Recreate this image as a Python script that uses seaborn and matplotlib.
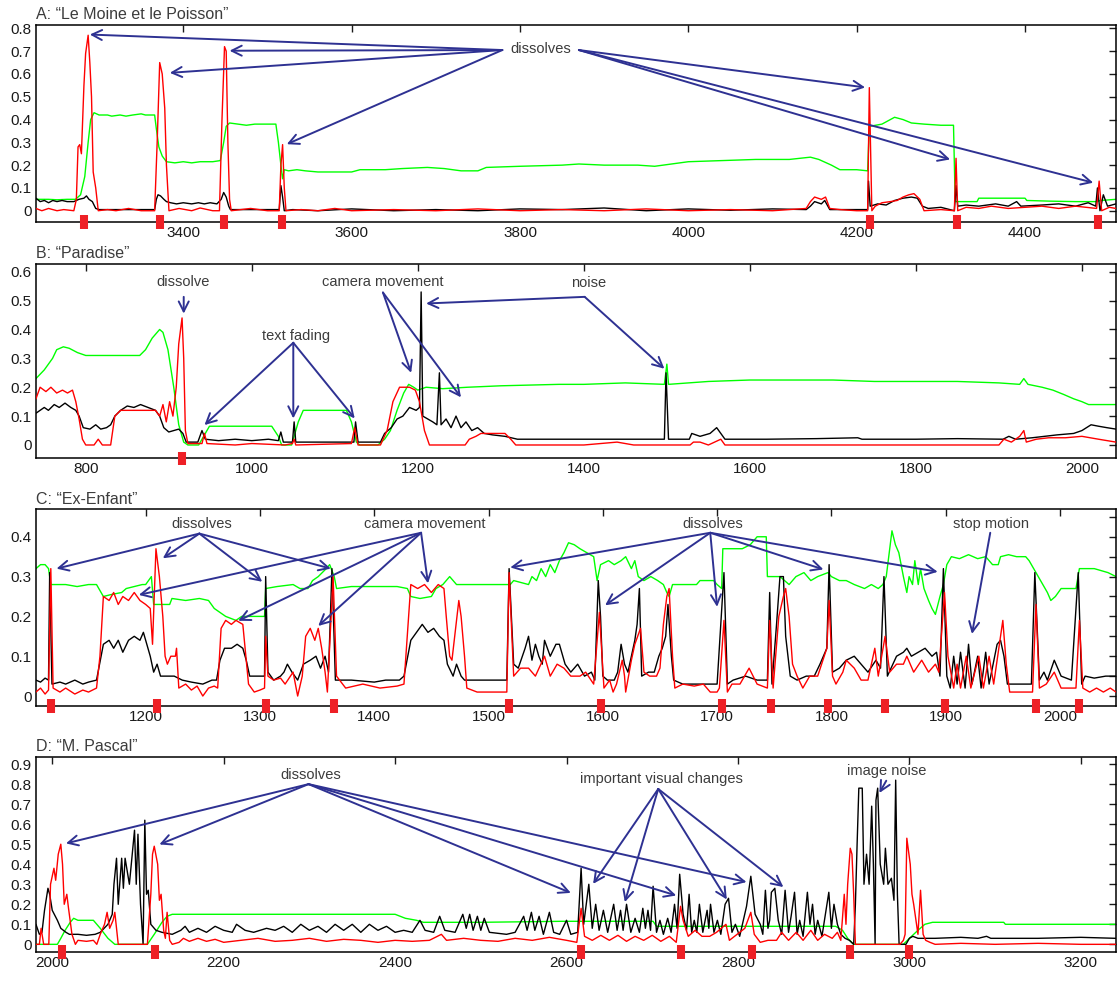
import numpy as np
import pandas as pd
import matplotlib
matplotlib.use("Agg")
import matplotlib.pyplot as plt
import seaborn as sns

# ---------------- data (frame, value) ----------------
A_green = [(3225,0.05),(3240,0.05),(3250,0.048),(3262,0.05),(3272,0.05),(3278,0.07),(3283,0.15),(3287,0.3),(3290,0.4),(3294,0.43),
 (3300,0.42),(3310,0.42),(3315,0.415),(3325,0.42),(3332,0.415),(3340,0.42),(3350,0.425),(3355,0.42),(3366,0.42),(3368,0.36),
 (3371,0.28),(3375,0.24),(3380,0.215),(3390,0.21),(3400,0.215),(3410,0.21),(3420,0.215),(3435,0.215),(3444,0.22),(3448,0.3),
 (3451,0.37),(3455,0.385),(3465,0.38),(3475,0.375),(3485,0.38),(3500,0.38),(3510,0.38),(3513,0.3),(3516,0.2),(3518,0.14),
 (3520,0.18),(3525,0.175),(3535,0.18),(3545,0.175),(3560,0.17),(3600,0.17),(3610,0.18),(3640,0.18),(3660,0.185),(3690,0.19),
 (3710,0.185),(3730,0.175),(3750,0.175),(3760,0.19),(3800,0.195),(3850,0.2),(3870,0.205),(3900,0.2),(3940,0.2),(3960,0.195),
 (3980,0.205),(4000,0.215),(4040,0.22),(4080,0.225),(4120,0.225),(4145,0.235),(4155,0.225),(4170,0.2),(4180,0.18),(4200,0.18),
 (4213,0.175),(4215,0.37),(4230,0.38),(4245,0.41),(4255,0.4),(4265,0.385),(4280,0.38),(4300,0.375),(4315,0.375),(4317,0.04),
 (4330,0.04),(4343,0.04),(4345,0.055),(4400,0.055),(4402,0.045),(4430,0.042),(4460,0.04),(4484,0.04),(4490,0.045),(4508,0.05)]
A_black = [(3225,0.055),(3230,0.04),(3235,0.045),(3240,0.035),(3245,0.045),(3250,0.04),(3256,0.045),(3262,0.04),(3270,0.04),
 (3276,0.05),(3282,0.055),(3285,0.065),(3288,0.05),(3292,0.04),(3296,0.01),(3300,0.005),(3366,0.005),(3368,0.05),(3370,0.07),
 (3373,0.065),(3377,0.05),(3380,0.04),(3385,0.035),(3392,0.03),(3400,0.035),(3410,0.03),(3418,0.035),(3425,0.03),(3432,0.035),
 (3440,0.03),(3445,0.05),(3448,0.08),(3451,0.06),(3454,0.02),(3456,0.005),(3514,0.005),(3516,0.11),(3518,0.06),(3520,0.0),
 (3530,0.005),(3560,0.0),(3600,0.008),(3650,0.0),(3700,0.005),(3750,0.0),(3800,0.008),(3850,0.005),(3900,0.012),(3950,0.0),
 (4000,0.008),(4050,0.002),(4100,0.008),(4140,0.005),(4145,0.02),(4150,0.04),(4158,0.03),(4162,0.045),(4168,0.005),(4213,0.005),
 (4214,0.13),(4216,0.02),(4225,0.03),(4235,0.025),(4245,0.045),(4255,0.055),(4265,0.06),(4272,0.055),(4278,0.02),(4285,0.01),
 (4300,0.015),(4316,0.0),(4318,0.11),(4320,0.02),(4330,0.025),(4345,0.02),(4365,0.03),(4380,0.02),(4390,0.04),(4395,0.02),
 (4420,0.025),(4440,0.03),(4460,0.02),(4475,0.035),(4484,0.02),(4486,0.1),(4489,0.0),(4493,0.07),(4498,0.02),(4508,0.03)]
A_red = [(3225,0.01),(3232,0.0),(3240,0.01),(3250,0.0),(3258,0.005),(3270,0.0),(3273,0.05),(3275,0.28),(3277,0.29),(3279,0.25),
 (3282,0.55),(3284,0.69),(3287,0.77),(3289,0.65),(3291,0.5),(3293,0.17),(3296,0.1),(3299,0.0),(3310,0.005),(3320,0.0),(3335,0.01),
 (3350,0.0),(3366,0.0),(3369,0.3),(3372,0.65),(3375,0.6),(3378,0.45),(3380,0.2),(3383,0.0),(3395,0.01),(3410,0.0),(3420,0.012),
 (3435,0.0),(3443,0.0),(3446,0.4),(3449,0.72),(3451,0.7),(3453,0.3),(3455,0.05),(3457,0.0),(3480,0.01),(3500,0.0),(3514,0.0),
 (3516,0.2),(3518,0.29),(3520,0.1),(3522,0.0),(3540,0.005),(3560,0.0),(3580,0.01),(3600,0.0),(3650,0.005),(3700,0.0),(3750,0.008),
 (3800,0.0),(3850,0.005),(3900,0.0),(3950,0.008),(4000,0.0),(4050,0.005),(4100,0.0),(4140,0.01),(4145,0.04),(4150,0.06),(4158,0.05),
 (4163,0.06),(4168,0.01),(4180,0.005),(4200,0.0),(4213,0.0),(4215,0.54),(4218,0.0),(4222,0.02),(4230,0.035),(4240,0.04),(4248,0.045),
 (4255,0.06),(4262,0.07),(4268,0.075),(4275,0.05),(4280,0.0),(4300,0.005),(4316,0.0),(4318,0.23),(4320,0.0),(4330,0.015),(4345,0.01),
 (4360,0.02),(4380,0.01),(4400,0.015),(4420,0.02),(4440,0.01),(4460,0.02),(4485,0.01),(4488,0.13),(4491,0.0),(4500,0.015),(4508,0.01)]
A_cuts = [3282, 3372, 3448, 3517, 4216, 4319, 4487]

B_green = [(740,0.23),(750,0.26),(760,0.3),(765,0.33),(773,0.34),(780,0.335),(790,0.32),(800,0.31),(830,0.31),(865,0.31),(872,0.33),
 (880,0.37),(889,0.4),(893,0.39),(899,0.33),(906,0.2),(912,0.07),(918,0.01),(923,0.0),(936,0.0),(940,0.02),(949,0.065),(980,0.065),
 (1024,0.065),(1032,0.03),(1036,0.0),(1048,0.0),(1056,0.08),(1062,0.12),(1080,0.12),(1100,0.12),(1114,0.12),(1120,0.08),(1126,0.01),
 (1130,0.0),(1152,0.0),(1160,0.02),(1167,0.05),(1175,0.12),(1183,0.18),(1189,0.21),(1195,0.2),(1200,0.19),(1210,0.2),(1230,0.195),
 (1260,0.2),(1300,0.205),(1370,0.21),(1400,0.21),(1450,0.215),(1497,0.21),(1500,0.28),(1502,0.21),(1550,0.22),(1600,0.225),
 (1650,0.225),(1700,0.225),(1750,0.22),(1800,0.22),(1850,0.22),(1900,0.215),(1925,0.21),(1930,0.23),(1935,0.21),(1952,0.2),
 (1965,0.19),(1978,0.175),(1990,0.16),(2000,0.15),(2008,0.14),(2041,0.14)]
B_black = [(740,0.11),(745,0.12),(750,0.13),(755,0.12),(762,0.14),(768,0.13),(775,0.145),(782,0.13),(788,0.12),(792,0.1),(797,0.06),
 (805,0.055),(812,0.07),(818,0.055),(825,0.06),(830,0.07),(835,0.1),(842,0.12),(850,0.135),(858,0.13),(866,0.14),(875,0.13),
 (884,0.12),(889,0.1),(894,0.06),(900,0.045),(906,0.05),(912,0.055),(917,0.04),(921,0.01),(935,0.01),(940,0.05),(944,0.02),
 (960,0.015),(980,0.02),(1000,0.015),(1020,0.02),(1032,0.015),(1035,0.045),(1038,0.01),(1049,0.01),(1051,0.08),(1053,0.01),
 (1080,0.01),(1110,0.01),(1123,0.01),(1125,0.08),(1128,0.01),(1155,0.01),(1160,0.04),(1168,0.06),(1175,0.09),(1182,0.1),
 (1190,0.13),(1198,0.12),(1202,0.13),(1204,0.53),(1206,0.1),(1212,0.09),(1218,0.08),(1223,0.07),(1226,0.25),(1228,0.07),
 (1234,0.09),(1240,0.06),(1246,0.1),(1252,0.06),(1258,0.08),(1265,0.05),(1272,0.06),(1280,0.04),(1290,0.035),(1305,0.03),
 (1320,0.02),(1370,0.02),(1400,0.02),(1440,0.02),(1497,0.02),(1499,0.25),(1502,0.02),(1527,0.02),(1530,0.04),(1540,0.03),
 (1552,0.04),(1560,0.06),(1565,0.04),(1570,0.02),(1620,0.02),(1680,0.022),(1730,0.025),(1735,0.02),(1800,0.02),(1850,0.022),
 (1905,0.02),(1912,0.03),(1920,0.02),(1940,0.025),(1955,0.03),(1970,0.035),(1990,0.04),(2000,0.05),(2011,0.07),(2020,0.065),
 (2030,0.06),(2041,0.055)]
B_red = [(740,0.16),(745,0.2),(752,0.185),(758,0.2),(765,0.18),(772,0.19),(778,0.18),(784,0.19),(788,0.15),(792,0.09),(796,0.02),
 (800,0.0),(810,0.0),(815,0.02),(820,0.0),(830,0.0),(835,0.1),(842,0.12),(870,0.12),(884,0.12),(889,0.1),(893,0.14),(897,0.08),
 (901,0.15),(905,0.1),(909,0.2),(912,0.35),(916,0.44),(918,0.3),(920,0.05),(923,0.005),(940,0.005),(943,0.04),(946,0.005),
 (980,0.0),(1000,0.005),(1040,0.0),(1049,0.005),(1051,0.02),(1053,0.0),(1120,0.005),(1124,0.06),(1128,0.0),(1155,0.0),(1163,0.05),
 (1170,0.15),(1178,0.2),(1190,0.2),(1197,0.19),(1202,0.15),(1208,0.05),(1214,0.0),(1257,0.0),(1262,0.02),(1270,0.03),(1276,0.04),
 (1305,0.04),(1312,0.02),(1318,0.0),(1400,0.0),(1440,0.01),(1460,0.0),(1528,0.0),(1532,0.01),(1540,0.01),(1550,0.0),(1565,0.02),
 (1570,0.0),(1900,0.0),(1906,0.02),(1915,0.01),(1925,0.03),(1930,0.05),(1933,0.01),(1945,0.02),(1960,0.025),(1980,0.025),
 (2000,0.03),(2020,0.02),(2041,0.01)]
B_cuts = [916]

C_green = [(1104,0.32),(1108,0.33),(1112,0.33),(1115,0.32),(1117,0.28),(1130,0.28),(1140,0.275),(1150,0.28),(1157,0.28),(1163,0.25),
 (1170,0.255),(1179,0.26),(1183,0.27),(1197,0.28),(1200,0.28),(1205,0.3),(1207,0.23),(1221,0.23),(1223,0.245),(1235,0.24),
 (1247,0.245),(1255,0.24),(1260,0.22),(1265,0.21),(1270,0.2),(1279,0.19),(1284,0.2),(1295,0.2),(1304,0.2),(1305,0.27),(1315,0.275),
 (1329,0.28),(1335,0.27),(1342,0.27),(1346,0.29),(1351,0.3),(1358,0.32),(1361,0.33),(1365,0.3),(1367,0.27),(1380,0.275),(1400,0.275),
 (1420,0.275),(1429,0.27),(1432,0.25),(1440,0.245),(1450,0.25),(1454,0.27),(1460,0.28),(1466,0.3),(1472,0.28),(1490,0.28),
 (1516,0.28),(1519,0.28),(1522,0.29),(1535,0.28),(1538,0.3),(1542,0.29),(1546,0.32),(1550,0.3),(1554,0.33),(1558,0.31),(1562,0.34),
 (1566,0.36),(1570,0.385),(1575,0.38),(1580,0.37),(1586,0.36),(1592,0.35),(1595,0.29),(1598,0.33),(1605,0.34),(1610,0.33),
 (1616,0.34),(1620,0.35),(1625,0.32),(1628,0.34),(1631,0.3),(1636,0.29),(1642,0.3),(1648,0.29),(1653,0.28),(1656,0.26),(1658,0.25),
 (1661,0.28),(1670,0.28),(1682,0.28),(1685,0.29),(1697,0.29),(1700,0.28),(1704,0.27),(1705,0.37),(1722,0.37),(1729,0.38),
 (1735,0.4),(1743,0.4),(1744,0.3),(1755,0.3),(1763,0.28),(1769,0.3),(1776,0.31),(1782,0.29),(1788,0.3),(1797,0.31),(1800,0.3),
 (1807,0.29),(1813,0.29),(1820,0.28),(1829,0.27),(1835,0.28),(1841,0.27),(1845,0.28),(1848,0.3),(1853,0.415),(1856,0.38),
 (1859,0.36),(1863,0.3),(1866,0.26),(1868,0.3),(1871,0.28),(1873,0.34),(1876,0.28),(1878,0.32),(1881,0.27),(1885,0.24),(1888,0.22),
 (1891,0.205),(1895,0.25),(1898,0.28),(1901,0.33),(1905,0.35),(1912,0.345),(1920,0.355),(1928,0.345),(1935,0.35),(1941,0.33),
 (1946,0.33),(1948,0.35),(1955,0.355),(1962,0.35),(1970,0.35),(1973,0.34),(1979,0.31),(1983,0.29),(1989,0.26),(1992,0.24),
 (1996,0.25),(2001,0.27),(2014,0.27),(2017,0.32),(2030,0.32),(2042,0.31),(2049,0.3)]
C_black = [(1104,0.04),(1108,0.035),(1112,0.045),(1115,0.04),(1116,0.31),(1118,0.03),(1125,0.035),(1130,0.03),(1138,0.04),(1145,0.03),
 (1150,0.035),(1157,0.04),(1163,0.13),(1168,0.14),(1172,0.12),(1176,0.14),(1180,0.11),(1185,0.14),(1190,0.15),(1195,0.14),
 (1198,0.16),(1202,0.12),(1204,0.1),(1207,0.06),(1210,0.08),(1213,0.05),(1225,0.05),(1232,0.04),(1240,0.035),(1250,0.03),
 (1258,0.04),(1262,0.04),(1265,0.09),(1269,0.12),(1275,0.12),(1280,0.13),(1285,0.12),(1288,0.09),(1291,0.05),(1304,0.05),
 (1305,0.3),(1307,0.06),(1312,0.04),(1318,0.05),(1321,0.06),(1324,0.08),(1328,0.06),(1333,0.04),(1338,0.08),(1344,0.09),
 (1349,0.1),(1353,0.07),(1357,0.1),(1360,0.06),(1363,0.32),(1366,0.04),(1380,0.04),(1400,0.035),(1410,0.04),(1422,0.04),
 (1426,0.05),(1432,0.14),(1437,0.16),(1442,0.18),(1447,0.16),(1452,0.17),(1457,0.15),(1461,0.14),(1464,0.08),(1469,0.05),
 (1472,0.08),(1476,0.05),(1479,0.04),(1500,0.04),(1516,0.04),(1518,0.32),(1522,0.08),(1526,0.07),(1532,0.12),(1535,0.15),
 (1538,0.09),(1541,0.13),(1544,0.1),(1547,0.08),(1549,0.14),(1554,0.1),(1559,0.13),(1562,0.13),(1567,0.08),(1572,0.06),
 (1578,0.08),(1584,0.05),(1590,0.06),(1593,0.04),(1596,0.29),(1598,0.2),(1600,0.05),(1604,0.04),(1610,0.04),(1613,0.06),
 (1616,0.13),(1619,0.08),(1622,0.06),(1625,0.1),(1628,0.14),(1630,0.18),(1632,0.27),(1634,0.05),(1640,0.06),(1645,0.06),
 (1649,0.1),(1652,0.12),(1655,0.15),(1657,0.23),(1660,0.1),(1662,0.04),(1670,0.03),(1690,0.03),(1700,0.03),(1706,0.31),
 (1709,0.03),(1714,0.04),(1725,0.05),(1735,0.04),(1744,0.04),(1746,0.26),(1748,0.03),(1752,0.18),(1755,0.3),(1758,0.3),
 (1760,0.15),(1764,0.05),(1770,0.04),(1778,0.05),(1785,0.05),(1790,0.08),(1793,0.1),(1796,0.12),(1798,0.33),(1801,0.06),
 (1807,0.07),(1813,0.09),(1820,0.1),(1826,0.08),(1832,0.06),(1839,0.09),(1843,0.07),(1846,0.3),(1849,0.05),(1857,0.1),
 (1863,0.11),(1866,0.12),(1870,0.1),(1876,0.11),(1882,0.12),(1888,0.1),(1892,0.11),(1895,0.05),(1898,0.32),(1901,0.05),
 (1904,0.02),(1907,0.1),(1910,0.03),(1913,0.11),(1917,0.02),(1920,0.13),(1923,0.03),(1928,0.1),(1931,0.02),(1935,0.11),
 (1938,0.03),(1945,0.13),(1948,0.14),(1951,0.1),(1954,0.03),(1975,0.03),(1978,0.31),(1982,0.04),(1986,0.06),(1989,0.04),
 (1995,0.09),(2001,0.05),(2010,0.04),(2016,0.31),(2019,0.03),(2022,0.05),(2030,0.045),(2040,0.05),(2049,0.05)]
C_red = [(1104,0.01),(1108,0.02),(1112,0.005),(1115,0.015),(1117,0.32),(1119,0.02),(1125,0.01),(1130,0.02),(1138,0.005),(1145,0.015),
 (1150,0.01),(1157,0.02),(1160,0.1),(1163,0.25),(1168,0.24),(1172,0.26),(1176,0.23),(1180,0.25),(1185,0.24),(1190,0.26),(1195,0.24),
 (1200,0.23),(1204,0.22),(1206,0.13),(1209,0.37),(1212,0.3),(1215,0.2),(1217,0.1),(1219,0.08),(1222,0.1),(1226,0.1),(1227,0.12),
 (1229,0.02),(1235,0.03),(1240,0.015),(1245,0.025),(1250,0.0),(1255,0.02),(1260,0.025),(1263,0.02),(1266,0.17),(1270,0.19),
 (1275,0.18),(1279,0.19),(1285,0.18),(1290,0.03),(1295,0.01),(1300,0.015),(1304,0.02),(1305,0.15),(1307,0.05),(1312,0.04),
 (1318,0.045),(1322,0.03),(1329,0.06),(1333,0.0),(1337,0.05),(1340,0.15),(1344,0.17),(1348,0.14),(1351,0.17),(1354,0.12),
 (1357,0.06),(1359,0.01),(1364,0.3),(1367,0.05),(1375,0.02),(1390,0.03),(1405,0.02),(1420,0.025),(1426,0.03),(1432,0.28),
 (1438,0.27),(1444,0.28),(1450,0.26),(1456,0.28),(1461,0.27),(1463,0.2),(1466,0.1),(1468,0.09),(1474,0.24),(1476,0.2),(1479,0.1),
 (1481,0.02),(1490,0.01),(1505,0.01),(1516,0.01),(1518,0.31),(1522,0.05),(1528,0.07),(1535,0.07),(1541,0.05),(1549,0.1),
 (1554,0.05),(1560,0.08),(1566,0.07),(1572,0.05),(1580,0.05),(1585,0.06),(1592,0.03),(1597,0.21),(1601,0.02),(1606,0.04),
 (1609,0.01),(1612,0.03),(1617,0.09),(1619,0.05),(1620,0.01),(1625,0.09),(1628,0.13),(1633,0.17),(1636,0.06),(1641,0.05),
 (1647,0.05),(1650,0.07),(1653,0.18),(1656,0.25),(1658,0.27),(1661,0.1),(1663,0.02),(1670,0.03),(1680,0.025),(1688,0.03),
 (1694,0.01),(1700,0.01),(1702,0.02),(1706,0.19),(1709,0.01),(1713,0.03),(1720,0.03),(1728,0.07),(1735,0.03),(1744,0.02),
 (1746,0.19),(1749,0.02),(1754,0.2),(1758,0.25),(1760,0.27),(1763,0.2),(1766,0.08),(1770,0.05),(1775,0.02),(1781,0.05),
 (1788,0.05),(1796,0.12),(1798,0.24),(1801,0.05),(1804,0.03),(1810,0.06),(1813,0.09),(1820,0.07),(1826,0.04),(1832,0.04),
 (1835,0.08),(1838,0.12),(1841,0.05),(1847,0.15),(1851,0.06),(1857,0.08),(1863,0.08),(1866,0.1),(1872,0.06),(1879,0.09),
 (1885,0.06),(1891,0.08),(1894,0.06),(1899,0.26),(1902,0.1),(1907,0.02),(1910,0.08),(1913,0.02),(1918,0.1),(1922,0.02),
 (1929,0.1),(1933,0.02),(1938,0.1),(1942,0.03),(1948,0.15),(1950,0.19),(1953,0.08),(1956,0.01),(1976,0.01),(1979,0.23),
 (1982,0.02),(1988,0.03),(1995,0.06),(2001,0.02),(2014,0.02),(2017,0.19),(2020,0.02),(2026,0.01),(2032,0.02),(2038,0.01),
 (2044,0.02),(2049,0.01)]
C_cuts = [1117, 1210, 1305, 1365, 1518, 1598, 1704, 1747, 1797, 1847, 1899, 1979, 2017]

D_green = [(1981,0.0),(2006,0.0),(2010,0.03),(2015,0.07),(2021,0.11),(2025,0.13),(2030,0.12),(2048,0.12),(2056,0.08),(2065,0.03),
 (2073,0.0),(2111,0.0),(2119,0.05),(2128,0.11),(2134,0.14),(2140,0.15),(2200,0.15),(2300,0.15),(2400,0.15),(2412,0.13),
 (2425,0.12),(2433,0.11),(2500,0.11),(2594,0.115),(2650,0.115),(2701,0.115),(2705,0.09),(2800,0.09),(2914,0.09),(2922,0.07),
 (2928,0.03),(2935,0.0),(2993,0.0),(3000,0.03),(3010,0.07),(3018,0.1),(3027,0.11),(3080,0.11),(3110,0.11),(3112,0.1),
 (3180,0.1),(3200,0.1),(3241,0.1)]
D_black = [(1981,0.1),(1985,0.05),(1988,0.06),(1991,0.17),(1995,0.28),(1997,0.25),(2000,0.17),(2006,0.12),(2010,0.08),(2016,0.06),
 (2020,0.05),(2030,0.05),(2040,0.045),(2050,0.05),(2056,0.06),(2065,0.1),(2070,0.15),(2072,0.3),(2075,0.43),(2077,0.2),(2081,0.43),
 (2083,0.28),(2085,0.43),(2088,0.35),(2090,0.3),(2096,0.57),(2098,0.3),(2100,0.55),(2103,0.2),(2106,0.0),(2108,0.62),(2110,0.25),
 (2112,0.27),(2115,0.1),(2121,0.07),(2128,0.06),(2140,0.05),(2150,0.07),(2155,0.09),(2160,0.06),(2170,0.08),(2180,0.06),
 (2190,0.09),(2200,0.07),(2210,0.06),(2215,0.1),(2225,0.07),(2235,0.06),(2250,0.08),(2260,0.07),(2270,0.09),(2280,0.06),
 (2290,0.1),(2300,0.07),(2310,0.09),(2320,0.06),(2330,0.1),(2340,0.07),(2350,0.1),(2360,0.06),(2370,0.1),(2380,0.07),(2390,0.09),
 (2400,0.06),(2410,0.07),(2420,0.06),(2429,0.12),(2435,0.07),(2445,0.06),(2452,0.14),(2458,0.07),(2470,0.06),(2479,0.15),
 (2483,0.08),(2487,0.15),(2491,0.07),(2496,0.14),(2500,0.07),(2504,0.13),(2510,0.06),(2530,0.05),(2540,0.06),(2550,0.14),
 (2554,0.07),(2559,0.16),(2563,0.07),(2568,0.14),(2573,0.05),(2580,0.16),(2585,0.06),(2592,0.05),(2600,0.12),(2605,0.05),
 (2613,0.06),(2617,0.38),(2620,0.1),(2626,0.3),(2630,0.08),(2634,0.2),(2638,0.07),(2643,0.17),(2648,0.06),(2655,0.2),(2659,0.07),
 (2663,0.17),(2666,0.07),(2670,0.2),(2675,0.06),(2680,0.13),(2685,0.06),(2689,0.18),(2692,0.08),(2695,0.17),(2698,0.07),
 (2701,0.29),(2705,0.06),(2709,0.12),(2713,0.05),(2718,0.13),(2722,0.06),(2726,0.2),(2729,0.08),(2732,0.35),(2736,0.15),
 (2740,0.07),(2743,0.25),(2746,0.06),(2749,0.12),(2752,0.06),(2755,0.2),(2759,0.06),(2764,0.17),(2766,0.08),(2768,0.2),
 (2772,0.06),(2776,0.12),(2780,0.05),(2785,0.2),(2789,0.23),(2793,0.06),(2797,0.1),(2802,0.04),(2810,0.19),(2815,0.34),
 (2820,0.15),(2826,0.1),(2829,0.05),(2832,0.27),(2835,0.08),(2837,0.12),(2839,0.26),(2843,0.28),(2847,0.12),(2851,0.05),
 (2855,0.27),(2859,0.06),(2862,0.14),(2866,0.26),(2869,0.05),(2872,0.12),(2876,0.04),(2881,0.26),(2884,0.1),(2887,0.2),
 (2890,0.05),(2893,0.12),(2898,0.04),(2906,0.26),(2909,0.08),(2912,0.2),(2916,0.1),(2920,0.05),(2925,0.03),(2930,0.02),
 (2935,0.0),(2937,0.2),(2939,0.5),(2941,0.78),(2945,0.78),(2947,0.3),(2950,0.45),(2953,0.3),(2956,0.69),(2958,0.4),(2960,0.0),
 (2961,0.72),(2963,0.78),(2966,0.4),(2970,0.3),(2972,0.48),(2975,0.3),(2979,0.33),(2982,0.22),(2984,0.82),(2986,0.25),(2988,0.0),
 (2996,0.0),(3000,0.03),(3004,0.04),(3010,0.03),(3030,0.03),(3060,0.035),(3080,0.03),(3090,0.04),(3095,0.03),(3150,0.03),
 (3200,0.035),(3241,0.03)]
D_red = [(1981,0.0),(1985,0.0),(1987,0.08),(1990,0.0),(1996,0.0),(1998,0.3),(2002,0.38),(2004,0.32),(2007,0.45),(2010,0.5),(2012,0.4),
 (2014,0.2),(2017,0.25),(2019,0.18),(2023,0.05),(2027,0.0),(2030,0.02),(2040,0.015),(2048,0.02),(2052,0.0),(2056,0.05),(2061,0.1),
 (2064,0.16),(2067,0.08),(2071,0.12),(2073,0.16),(2077,0.0),(2111,0.0),(2115,0.25),(2117,0.45),(2119,0.49),(2123,0.4),(2125,0.22),
 (2127,0.25),(2130,0.07),(2132,0.03),(2134,0.16),(2137,0.02),(2140,0.0),(2148,0.01),(2153,0.03),(2160,0.015),(2170,0.03),
 (2180,0.015),(2190,0.025),(2200,0.01),(2220,0.02),(2240,0.03),(2260,0.015),(2280,0.02),(2300,0.03),(2320,0.015),(2340,0.025),
 (2360,0.02),(2380,0.01),(2400,0.02),(2420,0.015),(2440,0.02),(2454,0.05),(2460,0.02),(2480,0.03),(2500,0.02),(2520,0.015),
 (2540,0.03),(2560,0.02),(2580,0.035),(2600,0.02),(2612,0.01),(2617,0.18),(2621,0.04),(2630,0.02),(2640,0.045),(2650,0.02),
 (2660,0.045),(2670,0.015),(2680,0.04),(2690,0.02),(2700,0.045),(2710,0.015),(2720,0.04),(2728,0.01),(2733,0.19),(2736,0.12),
 (2742,0.04),(2750,0.07),(2758,0.04),(2767,0.04),(2775,0.06),(2786,0.1),(2790,0.02),(2808,0.08),(2815,0.16),(2819,0.05),
 (2826,0.01),(2835,0.02),(2845,0.02),(2851,0.06),(2859,0.02),(2868,0.06),(2876,0.02),(2885,0.07),(2893,0.02),(2901,0.05),
 (2910,0.03),(2916,0.06),(2920,0.02),(2924,0.25),(2926,0.1),(2928,0.3),(2931,0.48),(2933,0.45),(2935,0.25),(2937,0.0),
 (2989,0.0),(2993,0.02),(2995,0.05),(2997,0.53),(3001,0.4),(3003,0.25),(3005,0.2),(3010,0.05),(3013,0.27),(3016,0.05),
 (3019,0.02),(3024,0.01),(3030,0.0),(3060,0.005),(3100,0.0),(3150,0.005),(3200,0.0),(3241,0.0)]
D_cuts = [2011, 2120, 2617, 2733, 2816, 2931, 3000]

titles = ["A: \u201cLe Moine et le Poisson\u201d", "B: \u201cParadise\u201d", "C: \u201cEx-Enfant\u201d", "D: \u201cM. Pascal\u201d"]
xlims = [(3225, 4508), (740, 2041), (1104, 2049), (1981, 3241)]
ylims = [(-0.048, 0.815), (-0.046, 0.627), (-0.025, 0.469), (-0.037, 0.937)]
xticks = [range(3400, 4401, 200), range(800, 2001, 200), range(1200, 2001, 100), range(2000, 3201, 200)]
ytick_step = [0.1, 0.1, 0.05, 0.1]
ytick_max = [0.8, 0.6, 0.45, 0.9]

# annotations: (label, text position, [(arrow start), (arrow end)], ...)
A_notes = [("dissolves", (3825, 0.709), [((3779, 0.705), (3289, 0.773)), ((3779, 0.705), (3384, 0.605)),
            ((3779, 0.705), (3455, 0.702)), ((3779, 0.705), (3523, 0.292)), ((3870, 0.705), (4210, 0.541)),
            ((3870, 0.705), (4311, 0.225)), ((3870, 0.705), (4481, 0.123))])]
B_notes = [("dissolve", (917, 0.563), [((918, 0.513), (918, 0.455))]),
           ("text fading", (1053, 0.378), [((1050, 0.354), (943, 0.069)), ((1050, 0.354), (1050, 0.092)),
                                           ((1050, 0.354), (1124, 0.092))]),
           ("camera movement", (1158, 0.563), [((1158, 0.528), (1192, 0.25)), ((1158, 0.528), (1252, 0.165))]),
           ("noise", (1406, 0.562), [((1401, 0.513), (1210, 0.49)), ((1401, 0.513), (1497, 0.264))])]
C_notes = [("dissolves", (1249, 0.431), [((1247, 0.408), (1122, 0.32)), ((1247, 0.408), (1215, 0.346)),
                                         ((1247, 0.408), (1302, 0.287)), ((1247, 0.408), (1362, 0.32))]),
           ("camera movement", (1444, 0.431), [((1441, 0.41), (1194, 0.254)), ((1441, 0.41), (1281, 0.189)),
                                               ((1441, 0.41), (1351, 0.176)), ((1441, 0.41), (1447, 0.283))]),
           ("dissolves", (1696, 0.431), [((1694, 0.41), (1519, 0.323)), ((1694, 0.41), (1602, 0.228)),
                                         ((1694, 0.41), (1700, 0.224)), ((1694, 0.41), (1793, 0.318)),
                                         ((1694, 0.41), (1893, 0.312))]),
           ("stop motion", (1940, 0.431), [((1939, 0.41), (1923, 0.156))])]
D_notes = [("dissolves", (2302, 0.845), [((2299, 0.80), (2016, 0.504)), ((2299, 0.80), (2125, 0.499)),
                                         ((2299, 0.80), (2605, 0.257)), ((2299, 0.80), (2728, 0.244)),
                                         ((2299, 0.80), (2810, 0.311))]),
           ("important visual changes", (2711, 0.826), [((2707, 0.776), (2631, 0.302)), ((2707, 0.776), (2668, 0.211)),
                                                        ((2707, 0.776), (2787, 0.224)), ((2707, 0.776), (2853, 0.286))]),
           ("image noise", (2973, 0.867), [((2973, 0.817), (2965, 0.756))])]

panels = [(A_green, A_black, A_red, A_cuts, A_notes), (B_green, B_black, B_red, B_cuts, B_notes),
          (C_green, C_black, C_red, C_cuts, C_notes), (D_green, D_black, D_red, D_cuts, D_notes)]

# ---------------- styling ----------------
sns.set_theme(style="white")
plt.rcParams["font.family"] = ["Liberation Sans", "DejaVu Sans"]
ARROW = "#2e3192"
TEXT = "#3c3c3c"

fig = plt.figure(figsize=(11.2, 9.83), dpi=100)
ax_rects = [(0.0321, 0.7745, 0.9643, 0.2001), (0.0321, 0.5338, 0.9643, 0.1977),
            (0.0321, 0.2818, 0.9643, 0.2001), (0.0321, 0.0318, 0.9643, 0.1984)]

for i, (green, black, red, cuts, notes) in enumerate(panels):
    ax = fig.add_axes(ax_rects[i])
    for series, col, z in ((green, "#00ff00", 2), (black, "black", 3), (red, "#ff0000", 4)):
        df = pd.DataFrame(series, columns=["frame", "value"])
        sns.lineplot(data=df, x="frame", y="value", ax=ax, color=col, lw=1.0,
                     estimator=None, sort=False, zorder=z, legend=False)
    ax.set_xlim(*xlims[i])
    ax.set_ylim(*ylims[i])
    ax.set_xlabel("")
    ax.set_ylabel("")
    ax.set_xticks(list(xticks[i]))
    ax.set_xticklabels([str(v) for v in xticks[i]])
    yt = np.round(np.arange(0, ytick_max[i] + 1e-9, ytick_step[i]), 3)
    ax.set_yticks(yt)
    ax.set_yticklabels([("0" if v == 0 else f"{v:g}") if abs(round(v * 10) - v * 10) < 1e-6 else "" for v in yt])
    ax.tick_params(direction="in", top=True, right=True, length=5, width=1.0,
                   labelsize=11, colors="#1a1a1a", pad=3)
    for s in ax.spines.values():
        s.set_color("black")
        s.set_linewidth(1.1)
    ax.set_title(titles[i], loc="left", fontsize=11.5, color=TEXT, pad=4)
    # red cut markers on the lower border
    ax.vlines(cuts, -0.036, 0.034, transform=ax.get_xaxis_transform(), colors="#ee2026",
              linewidth=5.8, capstyle="butt", clip_on=False, zorder=6)
    # annotations
    for label, tpos, arrows in notes:
        ax.text(tpos[0], tpos[1], label, ha="center", va="center", fontsize=10.5, color=TEXT, zorder=7)
        for start, end in arrows:
            ax.annotate("", xy=end, xytext=start,
                        arrowprops=dict(arrowstyle="->", color=ARROW, lw=1.4, shrinkA=0, shrinkB=0,
                                        mutation_scale=18), zorder=7)

fig.savefig("out.png", dpi=100)
